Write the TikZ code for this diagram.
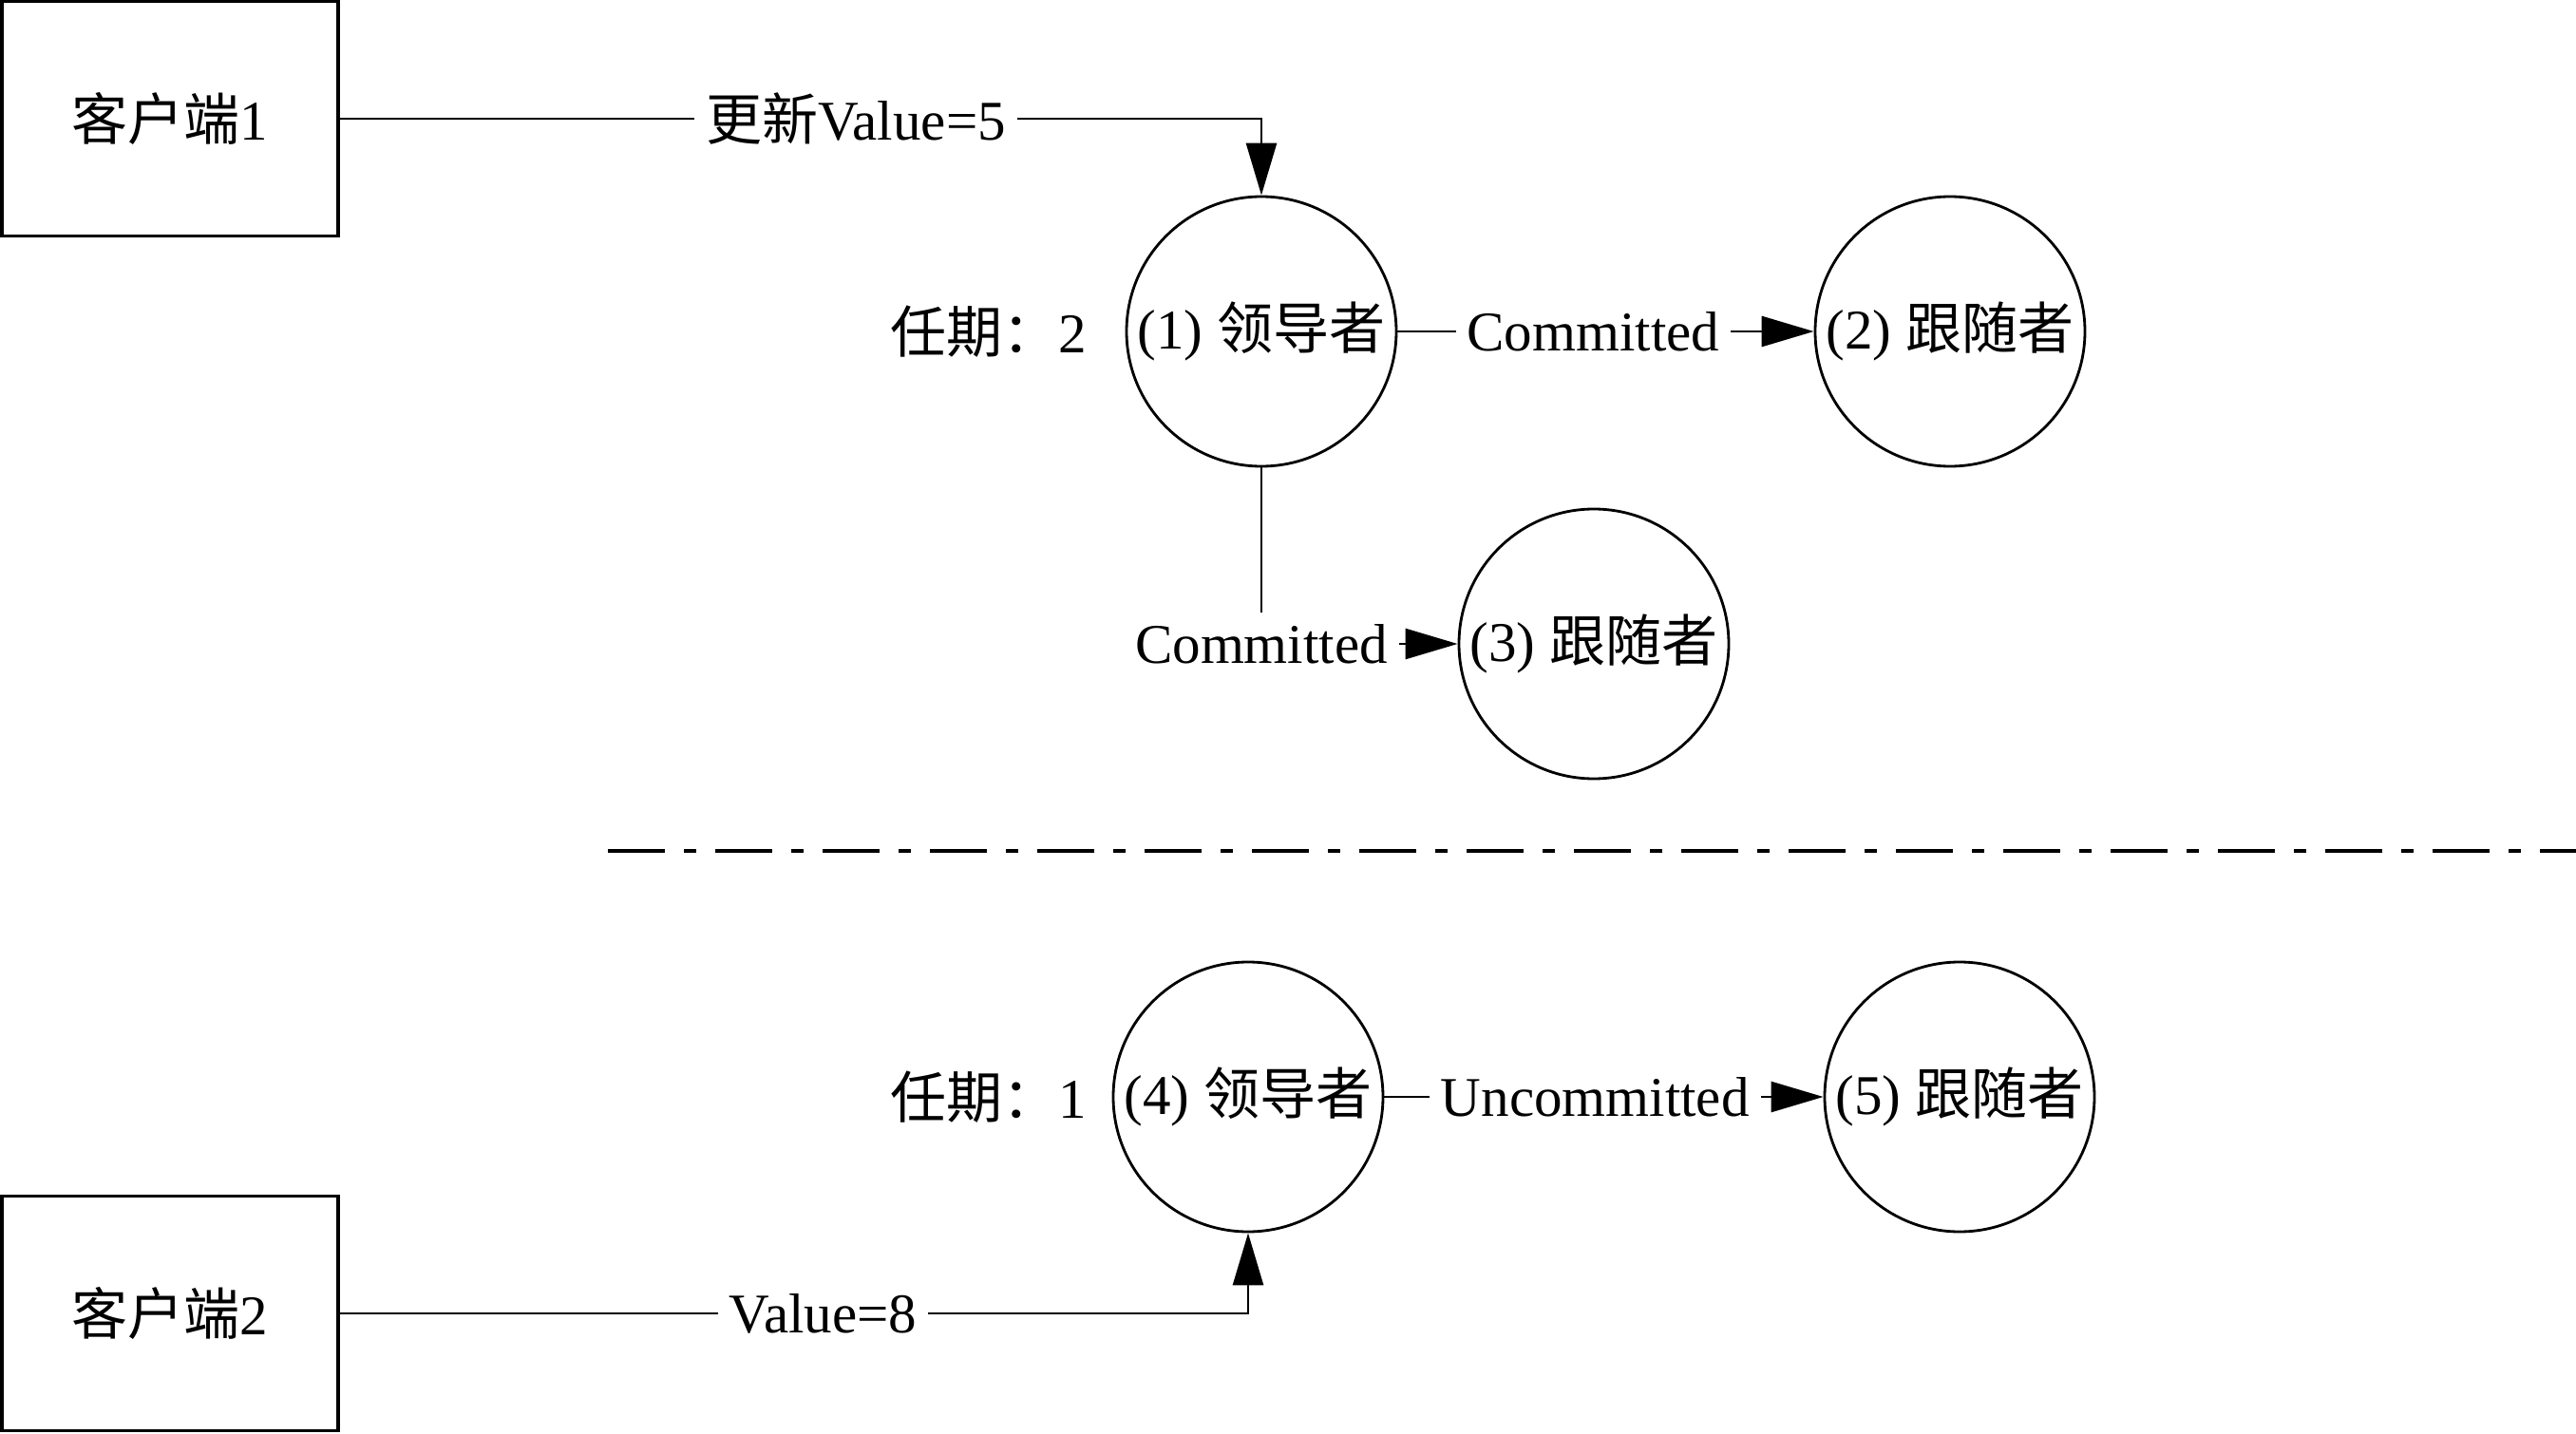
\documentclass[tikz,border=0pt]{standalone}
\usepackage{fontspec}
\setmainfont{Liberation Serif}
\newfontfamily\cjk{Noto Sans CJK SC}
\usetikzlibrary{arrows.meta, positioning, calc}
\newcommand{\zh}[1]{{\cjk #1}}

\begin{document}
\begin{tikzpicture}[
    every node/.style={font=\fontsize{16.8}{20}\selectfont},
    % Client boxes
    client/.style={draw, line width=1pt, minimum width=3.54cm, minimum height=2.47cm},
    % Raft peers
    peer/.style={draw, circle, line width=0.8pt, minimum size=2.84cm, inner sep=0pt},
    % Standard arrow
    arrow/.style={-{Triangle[length=0.55cm, width=0.32cm]}, line width=0.8pt},
    % Label sitting on a connector
    lbl/.style={fill=white, inner sep=0.12cm}
]
\useasboundingbox (0,0) rectangle (27.12,-15.10);

% === NODES ===

% Clients on the left
\node[client] (client1) at (1.79,-1.25) {\zh{客户端}1};
\node[client] (client2) at (1.79,-13.83) {\zh{客户端}2};

% Upper cluster, term 2
\node[peer] (leader1) at (13.28,-3.49) {(1) \zh{领导者}};
\node[peer] (follower2) at (20.53,-3.49) {(2) \zh{跟随者}};
\node[peer] (follower3) at (16.78,-6.78) {(3) \zh{跟随者}};
\node[left=0.28cm of leader1] (term2) {\zh{任期：}2};

% Lower cluster, term 1
\node[peer] (leader4) at (13.14,-11.55) {(4) \zh{领导者}};
\node[peer] (follower5) at (20.63,-11.55) {(5) \zh{跟随者}};
\node[left=0.14cm of leader4] (term1) {\zh{任期：}1};

% Partition line
\coordinate (cutL) at (6.40,-8.96);
\coordinate (cutR) at (27.12,-8.96);
\draw[line width=1pt, dash pattern=on 0.6cm off 0.2cm on 0.13cm off 0.2cm] (cutL) -- (cutR);

% === ARROWS ===

% client 1 -> leader 1
\draw[arrow] (client1) -| node[pos=0.28, lbl] {\zh{更新}Value=5} (leader1);

% leader 1 -> followers
\draw[arrow] (leader1) -- node[pos=0.47, lbl] {Committed} (follower2);
\draw[arrow] (leader1) |- node[pos=0.5, lbl] {Committed} (follower3);

% client 2 -> leader 4
\draw[arrow] (client2) -| node[pos=0.266, lbl] {Value=8} (leader4);

% leader 4 -> follower 5
\draw[arrow] (leader4) -- node[pos=0.48, lbl] {Uncommitted} (follower5);

\end{tikzpicture}
\end{document}
